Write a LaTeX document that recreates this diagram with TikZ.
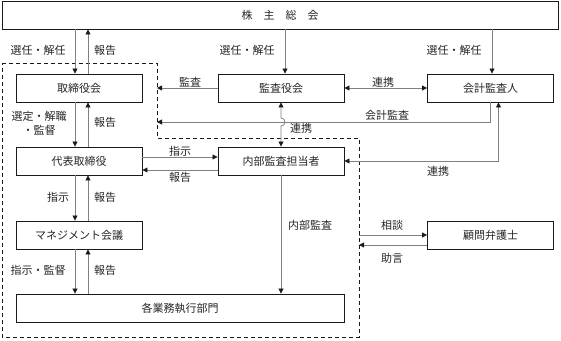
\documentclass[tikz,border=0pt]{standalone}
\usepackage{fontspec}
\newfontfamily\jpfont{Noto Sans CJK JP}
\usetikzlibrary{arrows.meta}
\definecolor{orgInk}{HTML}{1A1A1A}
\definecolor{orgLine}{HTML}{808080}
\definecolor{orgText}{HTML}{262626}
\tikzset{
  org box/.style={draw=orgInk, line width=0.9pt, fill=white, minimum width=126, minimum height=28, inner sep=0pt, font=\jpfont\fontsize{11}{13}\selectfont, text=orgText},
  org link/.style={draw=orgLine, line width=0.8pt},
  org to/.style={-{Triangle[length=5pt,width=5pt,color=orgInk]}},
  org both/.style={{Triangle[length=5pt,width=5pt,color=orgInk]}-{Triangle[length=5pt,width=5pt,color=orgInk]}},
  org zone/.style={draw=orgInk, line width=0.9pt, dash pattern=on 4pt off 3pt},
  org label/.style={font=\jpfont\fontsize{11}{14}\selectfont, text=orgText, inner sep=0pt, align=center},
}

\begin{document}
\begin{tikzpicture}[x=1pt,y=-1pt]
  \useasboundingbox (0,0) rectangle (561,340);
  % boxes
  \node[org box, minimum width=556] (meeting) at (280,15) {株　主　総　会};
  \node[org box] (board) at (79,88) {取締役会};
  \node[org box] (kansa) at (281,88) {監査役会};
  \node[org box] (auditor) at (490.5,88) {会計監査人};
  \node[org box] (ceo) at (79,161) {代表取締役};
  \node[org box] (internal) at (281,161) {内部監査担当者};
  \node[org box] (mgmt) at (79,235) {マネジメント会議};
  \node[org box] (lawyer) at (490.5,235) {顧問弁護士};
  \node[org box, minimum width=328] (dept) at (180,308) {各業務執行部門};
  % executive zone
  \draw[org zone] (2,63) -- (157,63) -- (157,138) -- (359,138) -- (359,337) -- (2,337) -- cycle;
  \coordinate (zoneKansa) at (157,88);
  \coordinate (zoneAudit) at (157,122);
  \coordinate (zoneAdvice) at (359,235);
  % left column, down and up
  \foreach \u/\l in {meeting/board, board/ceo, ceo/mgmt, mgmt/dept}{
    \draw[org link, org to] ([xshift=-4]board.south |- \u.south) -- ([xshift=-4]board.south |- \l.north);
    \draw[org link, org to] ([xshift=9]board.south |- \l.north) -- ([xshift=9]board.south |- \u.south);
  }
  \draw[org link, org to] ([xshift=4]kansa.north |- meeting.south) -- ([xshift=4]kansa.north);
  \draw[org link, org to] ([xshift=1.5]auditor.north |- meeting.south) -- ([xshift=1.5]auditor.north);
  \draw[org link, org to] (kansa.west) -- (zoneKansa);
  \draw[org link, org both] (kansa.east) -- (auditor.west);
  \draw[org link, org to] (auditor.south) -- (auditor.south |- zoneAudit) -- (zoneAudit);
  \draw[org link, org both] (internal.east) -- ([xshift=8]auditor.south |- internal.east) -- ([xshift=8]auditor.south);
  \draw[org link, org both] (kansa.south) -- ([yshift=4]kansa.south |- zoneAudit) arc[start angle=-90, end angle=90, radius=4] -- (internal.north);
  \draw[org link, org to] ([yshift=4]ceo.east) -- ([yshift=4]ceo.east -| internal.west);
  \draw[org link, org to] ([yshift=-9]internal.west) -- ([yshift=-9]internal.west -| ceo.east);
  \draw[org link, org to] (internal.south) -- (internal.south |- dept.north);
  \draw[org link, org to] (zoneAdvice) -- (lawyer.west);
  \draw[org link, org to] ([yshift=-10]lawyer.west) -- ([yshift=-10]lawyer.west -| zoneAdvice);
  % labels
  \node[org label] (lElectBoard) at (38,50) {選任・解任};
  \node[org label] (lReportMeeting) at (105,50) {報告};
  \node[org label] (lElectKansa) at (247,50) {選任・解任};
  \node[org label] (lElectAuditor) at (454,50) {選任・解任};
  \node[org label] (lAudit) at (190,82) {監査};
  \node[org label] (lLinkAuditor) at (383,82) {連携};
  \node[org label] (lAccounting) at (387,115) {会計監査};
  \node[org label] (lLinkKansa) at (301,128) {連携};
  \node[org label] (lAppoint) at (39,123) {選定・解職\\・監督};
  \node[org label] (lReportBoard) at (105,122) {報告};
  \node[org label] (lOrder) at (180,151) {指示};
  \node[org label] (lReportCeo) at (180,177) {報告};
  \node[org label] (lLinkInternal) at (438,171) {連携};
  \node[org label] (lOrderMgmt) at (58,197) {指示};
  \node[org label] (lReportMgmt) at (105,197) {報告};
  \node[org label] (lInternalAudit) at (310,225) {内部監査};
  \node[org label] (lConsult) at (392,225) {相談};
  \node[org label] (lAdvice) at (392,258) {助言};
  \node[org label] (lSupervise) at (38,270) {指示・監督};
  \node[org label] (lReportDept) at (105,270) {報告};
\end{tikzpicture}
\end{document}
